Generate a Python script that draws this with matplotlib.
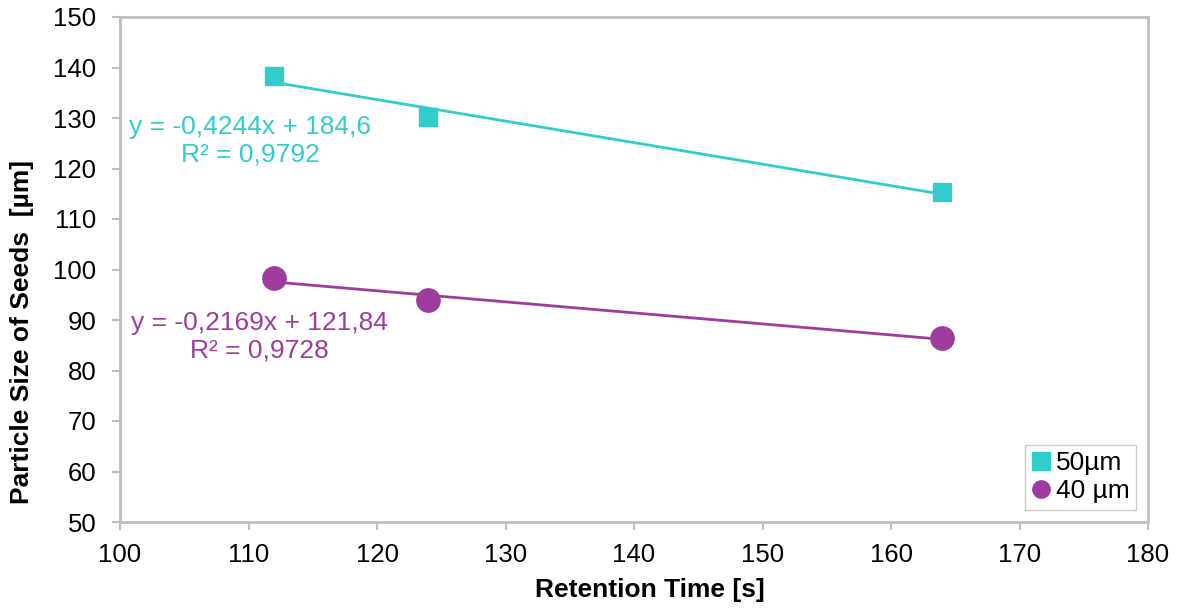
import numpy as np
import matplotlib
matplotlib.use("Agg")
import matplotlib.pyplot as plt

plt.rcParams['font.family'] = ['Liberation Sans', 'DejaVu Sans']

time_50 = [112, 124, 164]
size_50 = [138.4, 130.2, 115.3]
time_40 = [112, 124, 164]
size_40 = [98.3, 93.9, 86.4]
label_50 = "50µm"
label_40 = "40 µm"
eq_50 = "y = -0,4244x + 184,6\nR² = 0,9792"
eq_40 = "y = -0,2169x + 121,84\nR² = 0,9728"

cyan = "#33CCCC"
purple = "#9E3C9E"
gray = "#BFBFBF"
FS = 19

fig = plt.figure(figsize=(11.81, 6.09), dpi=100)
ax = fig.add_axes([120/1181, 87/609, (1148-120)/1181, (522-17)/609])

for t, s, c, m, ms, lab in [(time_50, size_50, cyan, 's', 12.5, label_50),
                            (time_40, size_40, purple, 'o', 16.8, label_40)]:
    ax.plot(t, s, linestyle='none', marker=m, markersize=ms, color=c, label=lab, zorder=3)
    k, b = np.polyfit(t, s, 1)
    xs = np.array([min(t), max(t)])
    ax.plot(xs, k * xs + b, color=c, lw=2, zorder=2)

ax.text(110.12, 125.45, eq_50, color=cyan, fontsize=FS, ha='center', va='center', linespacing=1.2)
ax.text(110.86, 86.63, eq_40, color=purple, fontsize=FS, ha='center', va='center', linespacing=1.2)

ax.set_xlim(100, 180)
ax.set_ylim(50, 150)
ax.set_xticks(np.arange(100, 181, 10))
ax.set_yticks(np.arange(50, 151, 10))
for sp in ax.spines.values():
    sp.set_color(gray)
    sp.set_linewidth(2)
ax.tick_params(axis='both', direction='out', length=6, width=1.5, color=gray, labelsize=18.5)
ax.tick_params(axis='y', pad=11)
ax.tick_params(axis='x', pad=9)
ax.set_xlabel("Retention Time [s]", fontsize=FS, fontweight='bold')
ax.set_ylabel("Particle Size of Seeds  [µm]", fontsize=FS, fontweight='bold')
ax.xaxis.set_label_coords(0.5156, -0.111)
ax.yaxis.set_label_coords(-0.084, 0.376)

leg = ax.legend(loc='lower right', fontsize=FS, frameon=True, fancybox=False,
                handlelength=0.7, handletextpad=0.2, borderpad=0.25, labelspacing=0.15,
                borderaxespad=0, bbox_to_anchor=(0.9883, 0.0238))
leg.get_frame().set_edgecolor(gray)
leg.get_frame().set_linewidth(1)
for h in leg.legend_handles:
    h.set_markersize(12.5)

fig.savefig("out.png", dpi=100)
